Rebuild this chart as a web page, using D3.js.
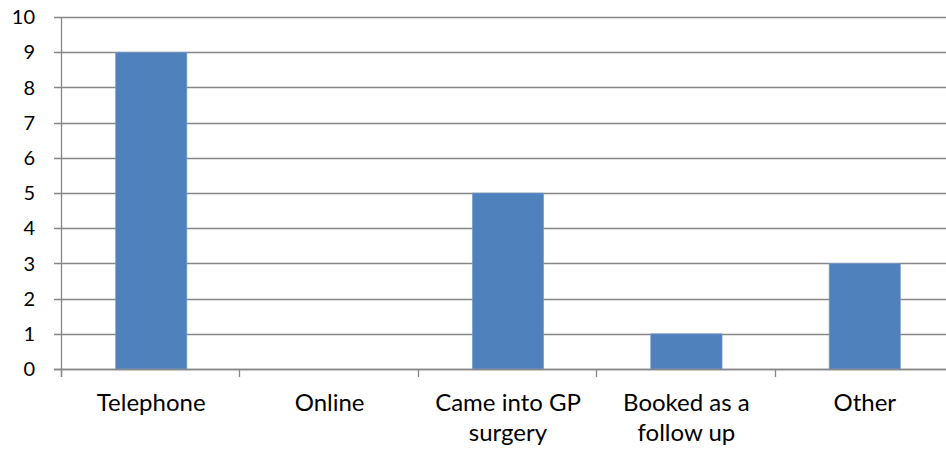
<!DOCTYPE html>
<html>
<head>
<meta charset="utf-8">
<script src="https://cdn.jsdelivr.net/npm/d3@7"></script>
<style>
  body { margin: 0; background: #fff; }
  svg text { font-family: Lato, "Open Sans", sans-serif; fill: #000; }
</style>
</head>
<body>
<div id="svg-container"></div>
<script>
// chart data
const categories = [['Telephone'], ['Online'], ['Came into GP', 'surgery'], ['Booked as a', 'follow up'], ['Other']];
const values = [9, 0, 5, 1, 3];
const yTicks = [0, 1, 2, 3, 4, 5, 6, 7, 8, 9, 10];

const svgWidth = 946;
const svgHeight = 452;
const margin = { left: 62, right: -8, top: 17, bottom: 83 };
const width = svgWidth - margin.left - margin.right;
const height = svgHeight - margin.top - margin.bottom;

const svg = d3.select('#svg-container')
  .append('svg')
  .attr('width', svgWidth)
  .attr('height', svgHeight);

const g = svg.append('g')
  .attr('transform', `translate(${margin.left}, ${margin.top})`);

const x = d3.scaleBand()
  .domain(categories.map((d, i) => i))
  .range([0, width])
  .paddingInner(0.6)
  .paddingOuter(0.3);

const y = d3.scaleLinear()
  .domain([0, 10])
  .range([height, 0]);

const gridColor = '#868686';

// horizontal gridlines + left ticks
g.append('g')
  .selectAll('line')
  .data(yTicks)
  .enter()
  .append('line')
  .attr('x1', -8)
  .attr('x2', width)
  .attr('y1', (d) => Math.round(y(d)) + 0.5)
  .attr('y2', (d) => Math.round(y(d)) + 0.5)
  .attr('stroke', gridColor)
  .attr('stroke-width', 1.3);

// y labels
g.append('g')
  .selectAll('text')
  .data(yTicks)
  .enter()
  .append('text')
  .attr('x', -27)
  .attr('y', (d) => y(d))
  .attr('dy', '0.36em')
  .attr('text-anchor', 'end')
  .style('font-size', '20px')
  .text((d) => d);

// bars
g.append('g')
  .selectAll('rect')
  .data(values)
  .enter()
  .append('rect')
  .attr('x', (d, i) => x(i))
  .attr('y', (d) => y(d))
  .attr('width', x.bandwidth())
  .attr('height', (d) => height - y(d))
  .attr('fill', '#4F81BD')
  .attr('stroke', '#7EA2CF')
  .attr('stroke-width', 0.6);

// y axis line
g.append('line')
  .attr('x1', -0.5).attr('x2', -0.5)
  .attr('y1', 0).attr('y2', height + 8)
  .attr('stroke', gridColor)
  .attr('stroke-width', 1.3);

// x axis line
g.append('line')
  .attr('x1', -8).attr('x2', width)
  .attr('y1', Math.round(height) + 0.5).attr('y2', Math.round(height) + 0.5)
  .attr('stroke', gridColor)
  .attr('stroke-width', 1.3);

// category boundary ticks
const step = x.step();
g.append('g')
  .selectAll('line')
  .data(d3.range(categories.length + 1))
  .enter()
  .append('line')
  .attr('x1', (d) => Math.round(d * step) - 0.5)
  .attr('x2', (d) => Math.round(d * step) - 0.5)
  .attr('y1', height)
  .attr('y2', height + 8)
  .attr('stroke', gridColor)
  .attr('stroke-width', 1.3);

// category labels, possibly two lines
const labels = g.append('g')
  .selectAll('text')
  .data(categories)
  .enter()
  .append('text')
  .attr('text-anchor', 'middle')
  .attr('transform', (d, i) => `translate(${x(i) + x.bandwidth() / 2}, ${height + 42})`)
  .style('font-size', '24px');

labels.selectAll('tspan')
  .data((d) => d)
  .enter()
  .append('tspan')
  .attr('x', 0)
  .attr('dy', (d, i) => i === 0 ? 0 : 30)
  .text((d) => d);
</script>
</body>
</html>
